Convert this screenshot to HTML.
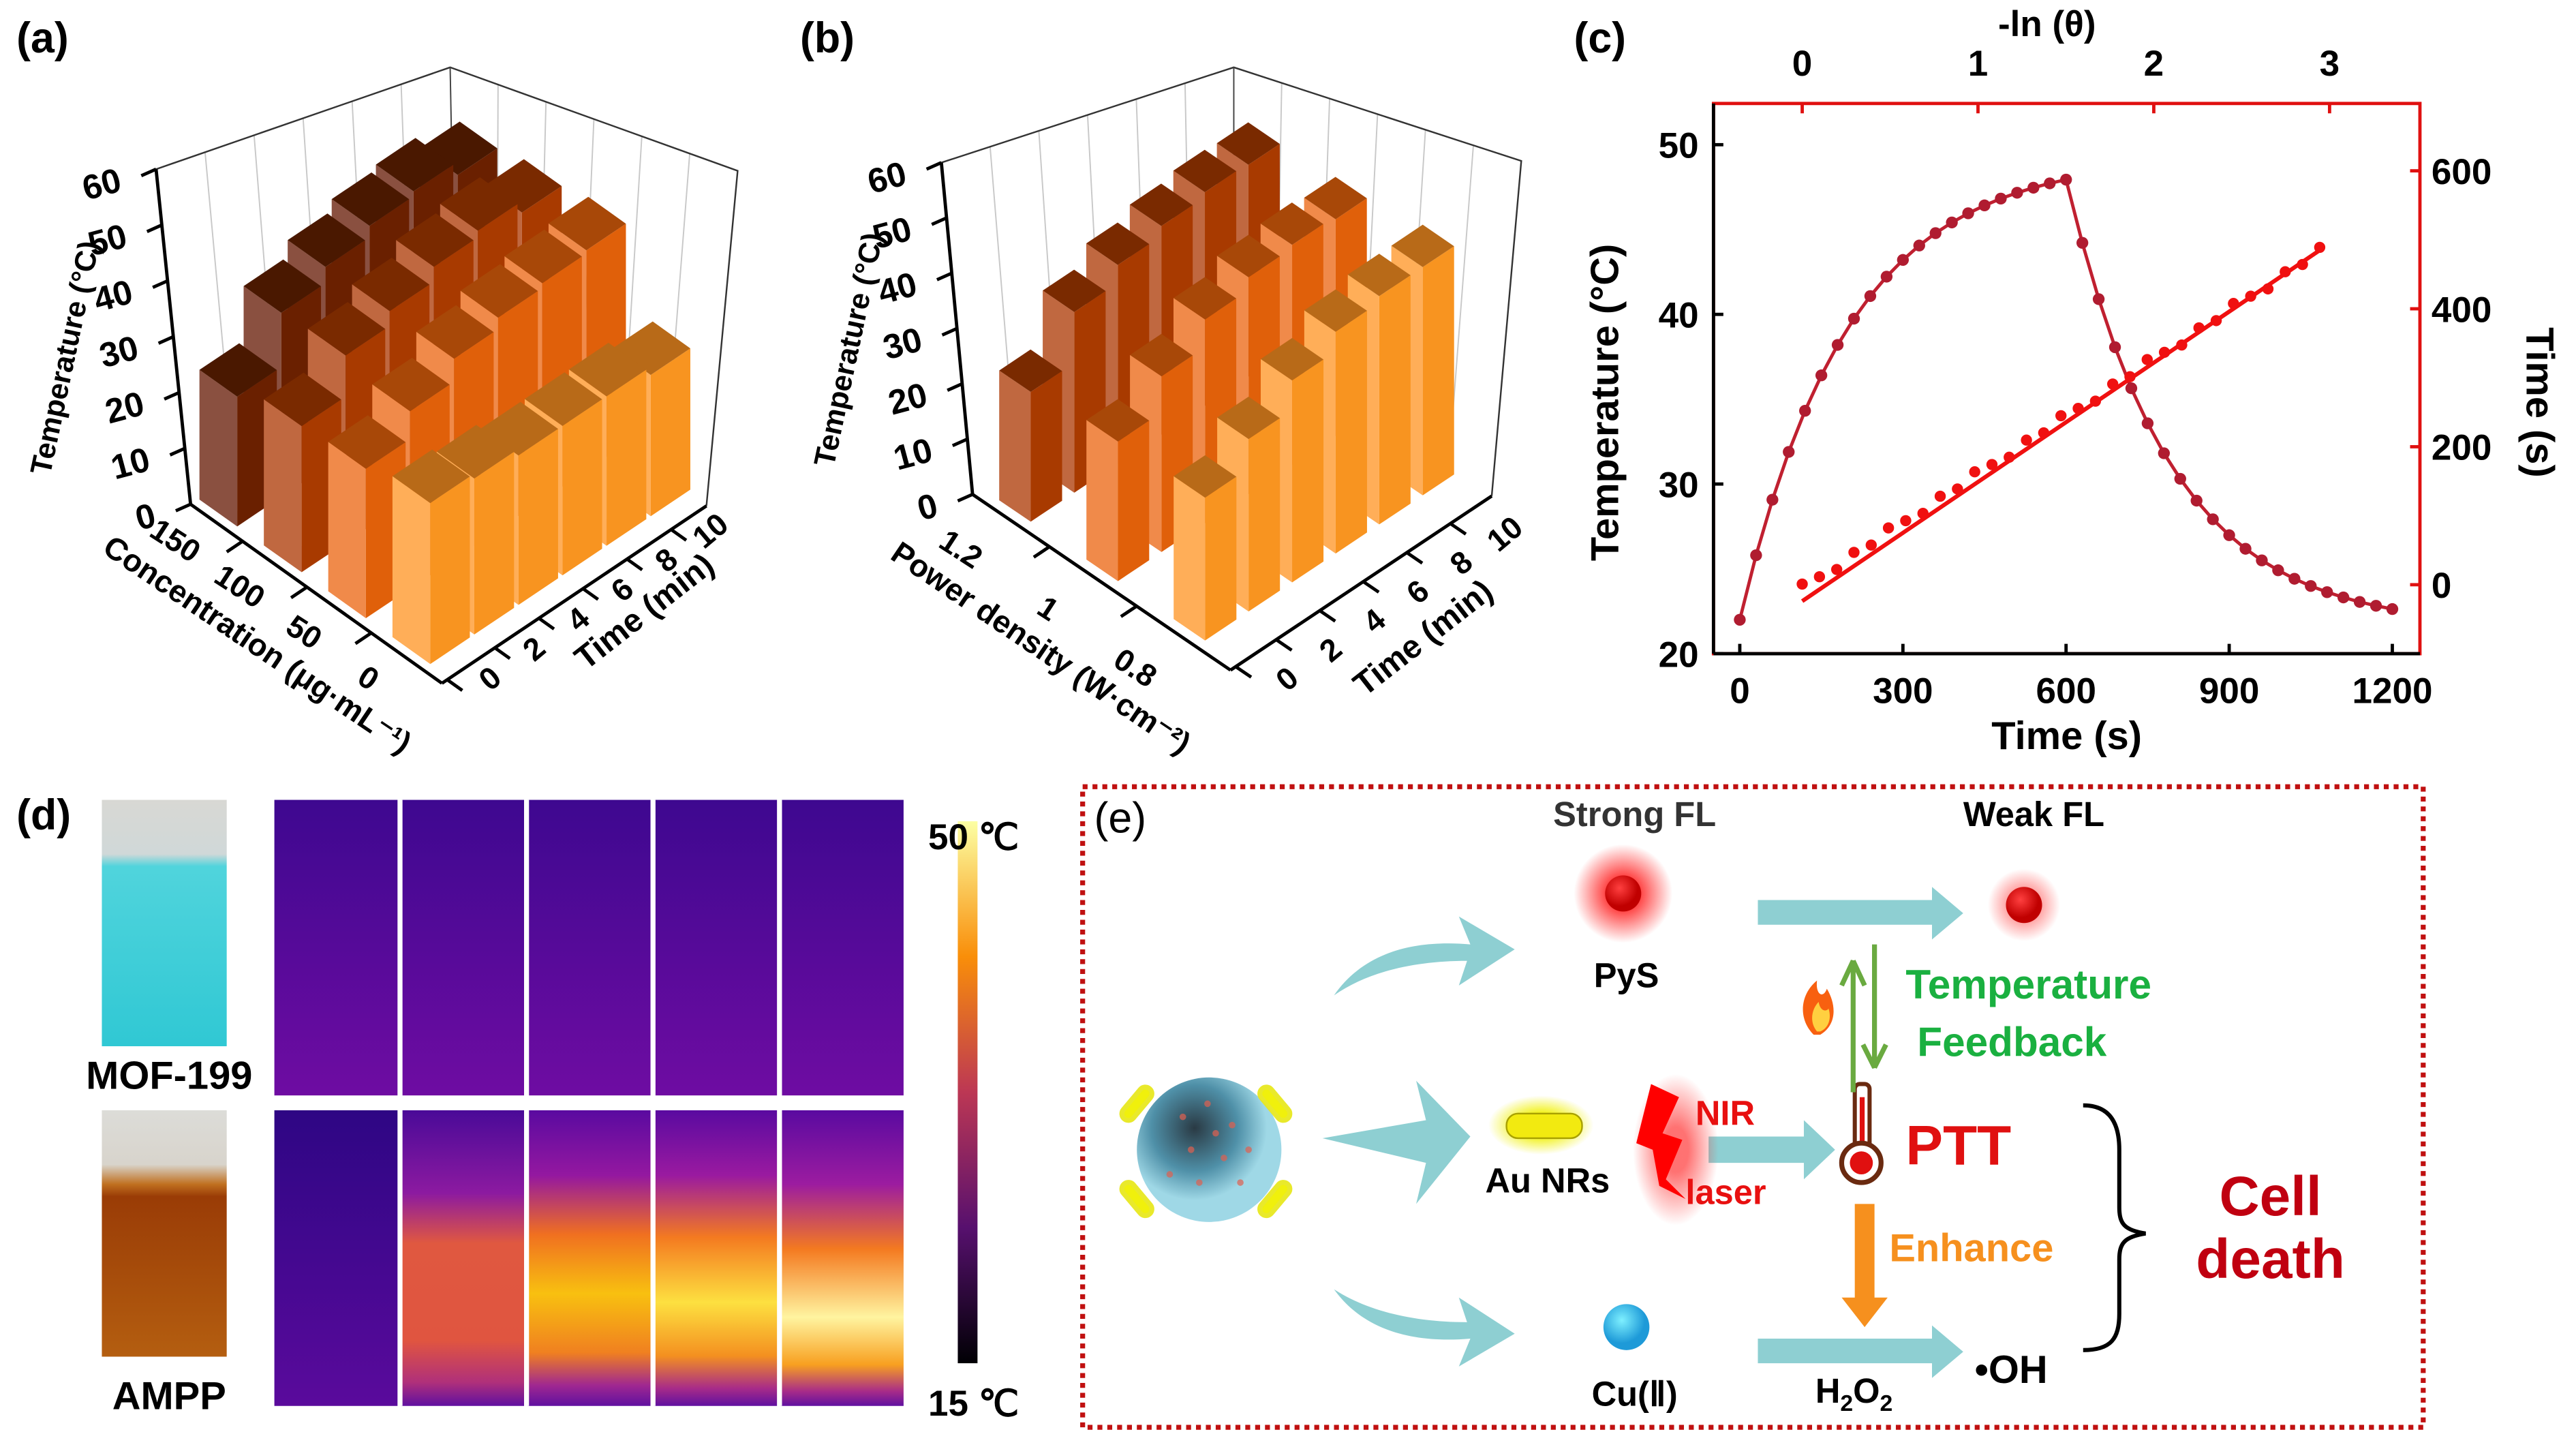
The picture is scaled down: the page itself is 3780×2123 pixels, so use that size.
<!DOCTYPE html>
<html><head><meta charset="utf-8"><style>
html,body{margin:0;padding:0;background:#fff;}
svg{display:block}
text{font-family:"Liberation Sans",Arial,sans-serif;font-weight:bold;}
</style></head><body>
<svg id="s" xmlns="http://www.w3.org/2000/svg" width="3780" height="2123" viewBox="0 0 1568 881" preserveAspectRatio="none">
<defs>
<radialGradient id="glow"><stop offset="0.3" stop-color="#ff2020" stop-opacity="0.9"/><stop offset="1" stop-color="#ff2020" stop-opacity="0"/></radialGradient>
<radialGradient id="yglow"><stop offset="0.4" stop-color="#f0f000" stop-opacity="0.9"/><stop offset="1" stop-color="#f0f000" stop-opacity="0"/></radialGradient>
<radialGradient id="sph" cx="0.4" cy="0.35"><stop offset="0" stop-color="#2a3a44"/><stop offset="0.6" stop-color="#4f90a8"/><stop offset="1" stop-color="#9fd8e6"/></radialGradient>
<radialGradient id="cu" cx="0.4" cy="0.35"><stop offset="0" stop-color="#7ef0ff"/><stop offset="1" stop-color="#1e9ad8"/></radialGradient>
<radialGradient id="reddot" cx="0.4" cy="0.35"><stop offset="0" stop-color="#ff4040"/><stop offset="1" stop-color="#c00000"/></radialGradient>
<linearGradient id="cbar" x1="0" y1="1" x2="0" y2="0"><stop offset="0" stop-color="#000004"/><stop offset="0.25" stop-color="#57106e"/><stop offset="0.5" stop-color="#bc3754"/><stop offset="0.75" stop-color="#f98e09"/><stop offset="1" stop-color="#fcffa4"/></linearGradient>
<linearGradient id="vialb" x1="0" y1="0" x2="0" y2="1"><stop offset="0" stop-color="#d8d8d4"/><stop offset="0.22" stop-color="#d0d8d8"/><stop offset="0.27" stop-color="#50d4dc"/><stop offset="1" stop-color="#30c8d4"/></linearGradient>
<linearGradient id="vialo" x1="0" y1="0" x2="0" y2="1"><stop offset="0" stop-color="#dcdcd8"/><stop offset="0.22" stop-color="#d8d4cc"/><stop offset="0.3" stop-color="#c07020"/><stop offset="0.35" stop-color="#9a3c06"/><stop offset="1" stop-color="#b45e10"/></linearGradient>
<linearGradient id="top" x1="0" y1="0" x2="0" y2="1"><stop offset="0" stop-color="#3e0890"/><stop offset="1" stop-color="#6e0ca2"/></linearGradient>
<linearGradient id="t1" x1="0" y1="0" x2="0" y2="1"><stop offset="0" stop-color="#2e0684"/><stop offset="1" stop-color="#5a0a9c"/></linearGradient>
<linearGradient id="t2" x1="0" y1="0" x2="0" y2="1"><stop offset="0" stop-color="#4a0a98"/><stop offset="0.28" stop-color="#8c1aa0"/><stop offset="0.45" stop-color="#e05840"/><stop offset="0.78" stop-color="#e05540"/><stop offset="0.92" stop-color="#b0307a"/><stop offset="1" stop-color="#6010a0"/></linearGradient>
<linearGradient id="t3" x1="0" y1="0" x2="0" y2="1"><stop offset="0" stop-color="#5a0aa0"/><stop offset="0.22" stop-color="#9418a0"/><stop offset="0.42" stop-color="#f07020"/><stop offset="0.62" stop-color="#f8c010"/><stop offset="0.82" stop-color="#f08020"/><stop offset="0.93" stop-color="#a02890"/><stop offset="1" stop-color="#6010a0"/></linearGradient>
<linearGradient id="t4" x1="0" y1="0" x2="0" y2="1"><stop offset="0" stop-color="#5a0aa0"/><stop offset="0.22" stop-color="#9a1aa0"/><stop offset="0.43" stop-color="#f47a20"/><stop offset="0.65" stop-color="#fde040"/><stop offset="0.83" stop-color="#f49020"/><stop offset="0.94" stop-color="#a82c88"/><stop offset="1" stop-color="#6010a0"/></linearGradient>
<linearGradient id="t5" x1="0" y1="0" x2="0" y2="1"><stop offset="0" stop-color="#5a0aa0"/><stop offset="0.25" stop-color="#9c1ca0"/><stop offset="0.47" stop-color="#f47a20"/><stop offset="0.7" stop-color="#fff4a0"/><stop offset="0.86" stop-color="#f8a020"/><stop offset="0.95" stop-color="#a82c88"/><stop offset="1" stop-color="#6010a0"/></linearGradient>
</defs>
<g id="g"></g>
<text x="10" y="32" font-size="26">(a)</text>
<text x="487" y="32" font-size="26">(b)</text>
<text x="958" y="32" font-size="26">(c)</text>
<text x="10" y="505" font-size="26">(d)</text>

<rect x="1043" y="63" width="430" height="335" fill="none" stroke="#e01010" stroke-width="2"/>
<line x1="1043" y1="63" x2="1043" y2="398" stroke="#000" stroke-width="2"/>
<line x1="1043" y1="398" x2="1473" y2="398" stroke="#000" stroke-width="2"/>
<g id="c"></g>
<text x="1246" y="22" font-size="22" text-anchor="middle">-ln (θ)</text>
<text x="1258" y="456" font-size="24" text-anchor="middle">Time (s)</text>
<text transform="translate(985,245) rotate(-90)" font-size="24" text-anchor="middle">Temperature (°C)</text>
<text transform="translate(1538,245) rotate(90)" font-size="24" text-anchor="middle">Time (s)</text>

<rect x="62" y="487" width="76" height="150" fill="url(#vialb)"/>
<rect x="62" y="676" width="76" height="150" fill="url(#vialo)"/>
<text x="103" y="663" font-size="24" text-anchor="middle">MOF-199</text>
<text x="103" y="858" font-size="24" text-anchor="middle">AMPP</text>
<g id="d"></g>
<rect x="583" y="500" width="12" height="330" fill="url(#cbar)"/>
<text x="565" y="517" font-size="22">50 ℃</text>
<text x="565" y="862" font-size="22">15 ℃</text>

<rect x="659" y="479" width="816" height="390" fill="none" stroke="#c01010" stroke-width="3" stroke-dasharray="3,3"/>
<text x="666" y="507" font-size="26" style="font-weight:normal">(e)</text>
<text x="995" y="503" font-size="21" text-anchor="middle" fill="#333">Strong FL</text>
<text x="1238" y="503" font-size="21" text-anchor="middle">Weak FL</text>
<circle cx="988" cy="544" r="30" fill="url(#glow)"/>
<circle cx="988" cy="544" r="11" fill="url(#reddot)"/>
<text x="990" y="601" font-size="21" text-anchor="middle">PyS</text>
<circle cx="1232" cy="551" r="22" fill="url(#glow)" opacity="0.6"/>
<circle cx="1232" cy="551" r="11" fill="url(#reddot)"/>
<g fill="#8ecfd2">
<path d="M1070,548H1176V540L1195,556L1176,572V563H1070z"/>
<path d="M1070,815H1176V807L1195,823L1176,839V830H1070z"/>
<path d="M1040,692H1098V682L1117,700L1098,718V708H1040z"/>
<path d="M805,693L868,682L862,658L895,692L862,733L868,708z"/>
<path d="M812,606C830,580 860,572 895,575L888,558L922,578L888,600L893,585C860,585 832,592 812,606z"/>
<path d="M812,785C830,810 860,818 895,815L888,832L922,812L888,790L893,805C860,805 832,798 812,785z"/>
</g>
<circle cx="736" cy="700" r="44" fill="url(#sph)"/>
<g fill="#e06050" opacity="0.7">
<circle cx="720" cy="680" r="2"/><circle cx="735" cy="672" r="2"/><circle cx="750" cy="685" r="2"/><circle cx="725" cy="700" r="2"/><circle cx="745" cy="705" r="2"/><circle cx="730" cy="720" r="2"/><circle cx="755" cy="720" r="2"/><circle cx="712" cy="715" r="2"/><circle cx="760" cy="700" r="2"/><circle cx="740" cy="690" r="2"/>
</g>
<g fill="#f0f000" stroke="#e8e820" stroke-width="3" opacity="0.95">
<rect x="688" y="660" width="8" height="24" rx="4" transform="rotate(40 692 672)"/>
<rect x="772" y="660" width="8" height="24" rx="4" transform="rotate(-40 776 672)"/>
<rect x="688" y="718" width="8" height="24" rx="4" transform="rotate(-40 692 730)"/>
<rect x="772" y="718" width="8" height="24" rx="4" transform="rotate(40 776 730)"/>
</g>
<ellipse cx="938" cy="685" rx="32" ry="18" fill="url(#yglow)"/>
<rect x="917" y="678" width="46" height="15" rx="7" fill="#f2ea10" stroke="#a8a000"/>
<text x="942" y="726" font-size="21" text-anchor="middle">Au NRs</text>
<ellipse cx="1020" cy="700" rx="26" ry="46" fill="url(#glow)" opacity="0.7"/>
<path d="M1005,660L1022,668L1012,690L1024,694L1014,718L1026,730L1010,722L1006,700L996,696z" fill="#f00"/>
<text x="1032" y="685" font-size="21" fill="#e81010">NIR</text>
<text x="1026" y="733" font-size="21" fill="#e81010">laser</text>
<rect x="1129" y="660" width="9" height="42" rx="3" fill="#fff" stroke="#6a2a10" stroke-width="2.5"/>
<rect x="1132" y="668" width="3" height="34" fill="#e01010"/>
<circle cx="1133" cy="708" r="12" fill="#fff" stroke="#6a2a10" stroke-width="3"/>
<circle cx="1133" cy="708" r="7" fill="#e01010"/>
<text x="1160" y="709" font-size="34" fill="#e01010">PTT</text>
<path d="M1128,665V585L1121,600M1128,585L1135,600" stroke="#6aaa40" stroke-width="3" fill="none"/>
<path d="M1141,575V650L1134,636M1141,650L1148,636" stroke="#6aaa40" stroke-width="3" fill="none"/>
<path d="M1104,630C1094,620 1096,605 1106,597C1105,606 1110,608 1112,602C1118,612 1118,624 1108,630z" fill="#f86010"/>
<path d="M1106,628C1101,622 1103,614 1107,610C1108,616 1112,616 1113,614C1115,620 1113,626 1108,628z" fill="#ffd040"/>
<text x="1160" y="608" font-size="25" fill="#1ab040">Temperature</text>
<text x="1167" y="643" font-size="25" fill="#1ab040">Feedback</text>
<path d="M1129,733H1141V790H1149L1135,808L1121,790H1129z" fill="#f6901e"/>
<text x="1150" y="768" font-size="24" fill="#f6901e">Enhance</text>
<circle cx="990" cy="808" r="14" fill="url(#cu)"/>
<text x="995" y="856" font-size="21" text-anchor="middle">Cu(Ⅱ)</text>
<text x="1105" y="854" font-size="21">H<tspan font-size="14" dy="5">2</tspan><tspan dy="-5">O</tspan><tspan font-size="14" dy="5">2</tspan></text>
<text x="1202" y="842" font-size="24">•OH</text>
<path d="M1268,673C1285,673 1290,685 1290,700V735C1290,745 1293,749 1306,751C1293,753 1290,757 1290,767V800C1290,815 1285,822 1268,822" stroke="#000" stroke-width="2.5" fill="none"/>
<text x="1382" y="740" font-size="34" fill="#c00010" text-anchor="middle">Cell</text>
<text x="1382" y="778" font-size="34" fill="#c00010" text-anchor="middle">death</text>
</svg>
<script>
const NS="http://www.w3.org/2000/svg";
function el(parent,tag,attrs,txt){const e=document.createElementNS(NS,tag);for(const k in attrs)e.setAttribute(k,attrs[k]);if(txt!==undefined)e.textContent=txt;document.getElementById(parent).appendChild(e);return e;}
const pts=a=>a.map(p=>p[0].toFixed(1)+","+p[1].toFixed(1)).join(" ");
const lerp=(a,b,f)=>[a[0]+(b[0]-a[0])*f,a[1]+(b[1]-a[1])*f];
function chart3d(o){
 const F=o.F,L=o.L,R=o.R;
 const P=(u,v,h)=>[F[0]+u*(R[0]-F[0])+v*(L[0]-F[0]), F[1]+u*(R[1]-F[1])+v*(L[1]-F[1])-(h||0)];
 const B=[L[0]+R[0]-F[0],L[1]+R[1]-F[1]];
 const Lt=o.Lt,Bt=o.Bt,Rt=o.Rt;
 for(let i=1;i<=6;i++){const f=i/6;const a=lerp(Lt,Bt,f),b=lerp(L,B,f);el("g","line",{x1:a[0],y1:a[1],x2:b[0],y2:b[1],stroke:"#c8c8c8","stroke-width":0.8});}
 for(let i=1;i<=5;i++){const f=i/6;const a=lerp(Bt,Rt,f),b=lerp(B,R,f);el("g","line",{x1:a[0],y1:a[1],x2:b[0],y2:b[1],stroke:"#c8c8c8","stroke-width":0.8});}
 el("g","polyline",{points:pts([Lt,Bt,Rt,R]),fill:"none",stroke:"#333","stroke-width":1});
 el("g","line",{x1:Bt[0],y1:Bt[1],x2:B[0],y2:B[1],stroke:"#444","stroke-width":0.8});
 el("g","line",{x1:L[0],y1:L[1],x2:Lt[0],y2:Lt[1],stroke:"#000","stroke-width":2});
 for(let z=0;z<=60;z+=10){const p=lerp(L,Lt,z/60);el("g","line",{x1:p[0]-9,y1:p[1]+4,x2:p[0],y2:p[1],stroke:"#000","stroke-width":2});
  el("g","text",{x:p[0]-20,y:p[1]+13,"font-size":21,"text-anchor":"end",transform:`rotate(-15 ${p[0]-20} ${p[1]+13})`},z);}
 const m=lerp(L,Lt,0.5);
 el("g","text",{x:m[0]-60,y:m[1]+14,"font-size":18,"text-anchor":"middle",transform:`rotate(-78 ${m[0]-60} ${m[1]+14})`},"Temperature (°C)");
 el("g","line",{x1:F[0],y1:F[1],x2:L[0],y2:L[1],stroke:"#000","stroke-width":2});
 el("g","line",{x1:F[0],y1:F[1],x2:R[0],y2:R[1],stroke:"#000","stroke-width":2});
 const nV=o.rows.length;
 for(let j=nV-1;j>=0;j--){for(let i=5;i>=0;i--){
  const u0=o.us+i/6,u1=u0+o.w,v0=o.vs+j*o.vstep,v1=v0+o.d;const r=o.rows[j];const h=r.h[i];
  el("g","polygon",{points:pts([P(u0,v0,0),P(u0,v1,0),P(u0,v1,h),P(u0,v0,h)]),fill:r.c[0]});
  el("g","polygon",{points:pts([P(u0,v0,0),P(u1,v0,0),P(u1,v0,h),P(u0,v0,h)]),fill:r.c[1]});
  el("g","polygon",{points:pts([P(u0,v0,h),P(u1,v0,h),P(u1,v1,h),P(u0,v1,h)]),fill:r.c[2]});
 }}
 for(let i=0;i<=5;i++){const u=o.us+i/6+o.w+0.02;
  if(i<5){const p=P(u,0,0),q=P(u,-0.06,0);el("g","line",{x1:p[0],y1:p[1],x2:q[0],y2:q[1],stroke:"#000","stroke-width":2});}
  const c=P(o.us+i/6+o.w/2,0,0);const x=c[0]+o.to[0],y=c[1]+o.to[1];
  el("g","text",{x:x,y:y+7,"font-size":19,"text-anchor":"middle",transform:`rotate(-40 ${x} ${y})`},i*2);}
 {const p=P(0.02,0,0),q=P(0.02,-0.06,0);el("g","line",{x1:p[0],y1:p[1],x2:q[0],y2:q[1],stroke:"#000","stroke-width":2});}
 for(let j=0;j<nV;j++){const v=o.vs+j*o.vstep+o.d/2;const c=P(0,v,0);const x=c[0]+o.vo[0],y=c[1]+o.vo[1];
  el("g","text",{x:x,y:y+7,"font-size":19,"text-anchor":"middle",transform:`rotate(33 ${x} ${y})`},o.vl[j]);
  if(j<nV-1){const vv=o.vs+j*o.vstep+o.d+(o.vstep-o.d)/2;const p=P(0,vv,0),q=P(-0.06,vv,0);el("g","line",{x1:p[0],y1:p[1],x2:q[0],y2:q[1],stroke:"#000","stroke-width":2});}
 }
 el("g","text",{x:o.tt[0],y:o.tt[1]+7,"font-size":20,"text-anchor":"middle",transform:`rotate(-38 ${o.tt[0]} ${o.tt[1]})`},"Time (min)");
 el("g","text",{x:o.vt[0],y:o.vt[1]+7,"font-size":19,"text-anchor":"middle",transform:`rotate(34 ${o.vt[0]} ${o.vt[1]})`},o.vtxt);
}
const CL=["#ffae58","#f89420","#b86a18"],C2=["#f08a4a","#e0600a","#a84808"],C3=["#c06840","#a83a00","#7a2a00"],C4=["#8a5040","#6a2000","#4a1800"];
chart3d({F:[269,416],R:[430,308],L:[116,307],Lt:[95,103],Bt:[274,41],Rt:[449,104],us:0.03,w:0.15,vs:0.078,vstep:0.256,d:0.15,
 to:[12,8],vo:[-21,13],vl:["0","50","100","150"],vtxt:"Concentration (μg·mL⁻¹)",tt:[392,372],vt:[157,392],
 rows:[{c:CL,h:[98,95,91,91,91,86]},{c:C2,h:[91,108,122,129,132,134]},{c:C3,h:[89,114,123,132,136,129]},{c:C4,h:[79,112,122,129,132,124]}]});
chart3d({F:[749,408],R:[908,302],L:[592,301],Lt:[573,99],Bt:[751,41],Rt:[926,98],us:0.035,w:0.12,vs:0.134,vstep:0.338,d:0.122,
 to:[19,15],vo:[-27,19],vl:["0.8","1","1.2"],vtxt:"Power density (W·cm⁻²)",tt:[866,388],vt:[634,394],
 rows:[{c:CL,h:[87,105,123,135,139,139]},{c:C2,h:[85,107,124,132,134,132]},{c:C3,h:[79,110,121,127,130,129]}]});
const X=t=>1059+t*0.331,Y=T=>398-(T-20)*10.33;
for(let t=0;t<=1200;t+=300){el("c","line",{x1:X(t),y1:398,x2:X(t),y2:392,stroke:"#000","stroke-width":2});el("c","text",{x:X(t),y:428,"font-size":22,"text-anchor":"middle"},t);}
for(let T=20;T<=50;T+=10){el("c","line",{x1:1043,y1:Y(T),x2:1049,y2:Y(T),stroke:"#000","stroke-width":2});el("c","text",{x:1034,y:Y(T)+8,"font-size":22,"text-anchor":"end"},T);}
for(let k=0;k<=3;k++){const x=1097+k*107;el("c","line",{x1:x,y1:63,x2:x,y2:69,stroke:"#e01010","stroke-width":2});el("c","text",{x:x,y:46,"font-size":22,"text-anchor":"middle"},k);}
for(let s=0;s<=600;s+=200){const y=356-s*0.42;el("c","line",{x1:1473,y1:y,x2:1467,y2:y,stroke:"#e01010","stroke-width":2});el("c","text",{x:1480,y:y+8,"font-size":22},s);}
let pp=[];for(let t=0;t<=1200;t+=30){let T=t<=600?22+27.3*(1-Math.exp(-t/200)):21.5+(48.1-21.5)*Math.exp(-(t-600)/190);pp.push([X(t),Y(T)]);}
el("c","polyline",{points:pts(pp),fill:"none",stroke:"#c02030","stroke-width":2});
pp.forEach(p=>el("c","circle",{cx:p[0],cy:p[1],r:3.6,fill:"#b01c30"}));
el("c","line",{x1:1097,y1:366,x2:1414,y2:151,stroke:"#f01010","stroke-width":2.5});
for(let i=0;i<31;i++){const f=i/30;const x=1097+f*315,y=358-f*205+((i*7)%5-2)*1.2;el("c","circle",{cx:x,cy:y,r:3.4,fill:"#f01010"});}
const cx=[167,244,321,398,475];
cx.forEach((x,i)=>{el("d","rect",{x:x,y:487,width:75,height:180,fill:"url(#top)"});});
["url(#t1)","url(#t2)","url(#t3)","url(#t4)","url(#t5)"].forEach((f,i)=>{el("d","rect",{x:cx[i],y:676,width:75,height:180,fill:f});});
[242,319,396,473].forEach(x=>{el("d","rect",{x:x,y:487,width:3,height:369,fill:"#fff"});});
el("d","rect",{x:167,y:667,width:383,height:9,fill:"#fff"});
</script>
</body></html>
